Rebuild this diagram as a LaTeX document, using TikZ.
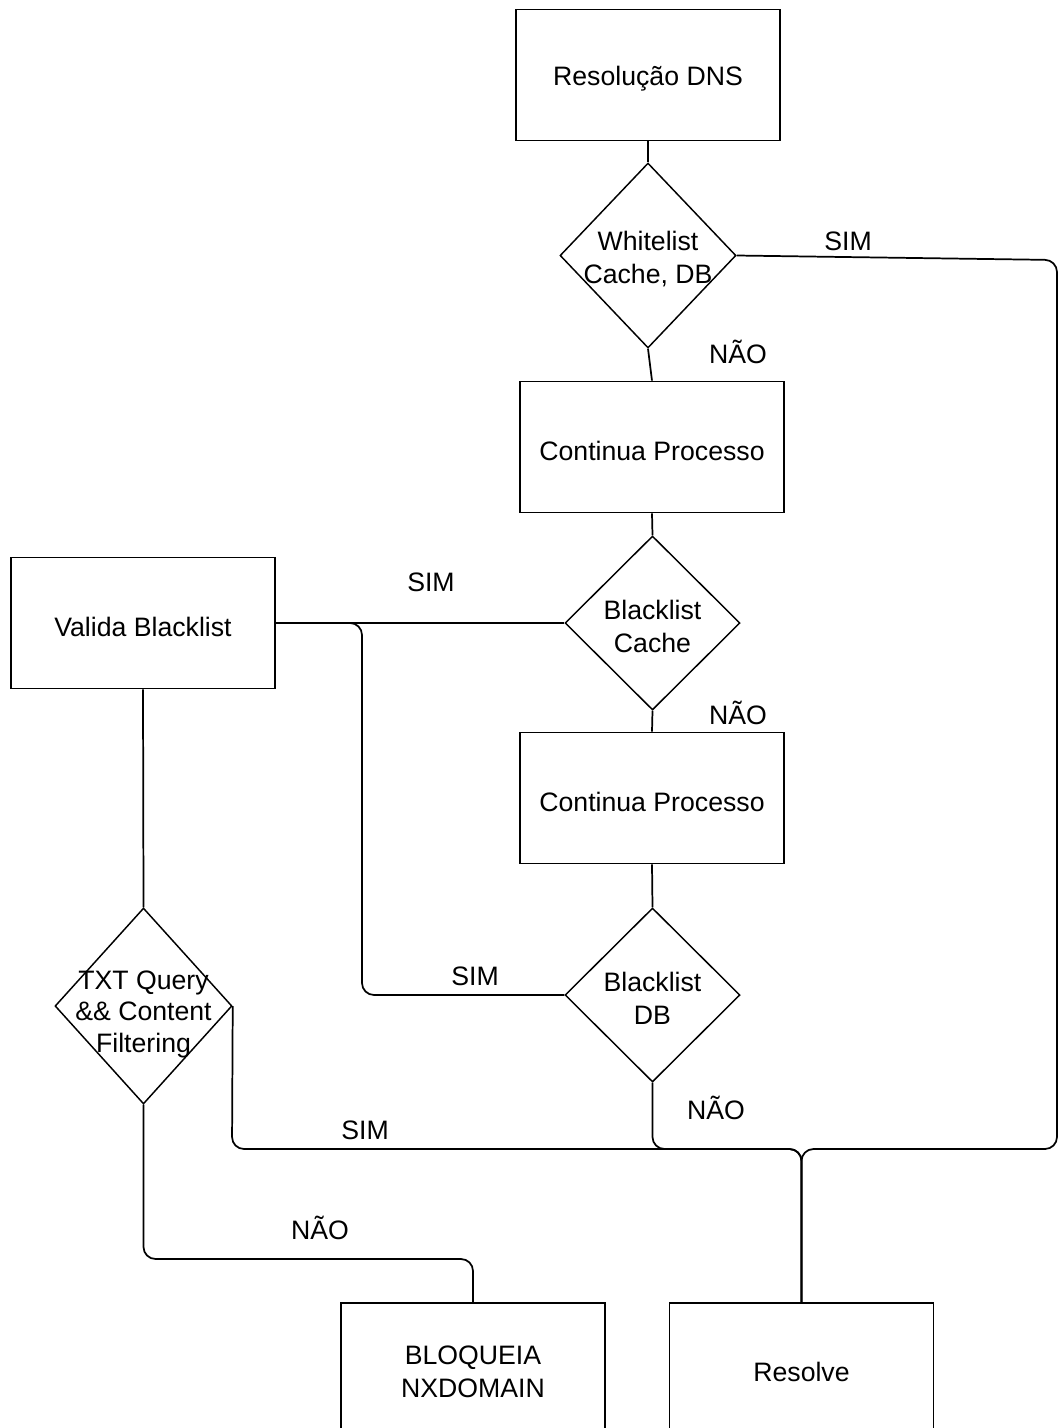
\documentclass[tikz,border=0pt]{standalone}
\usepackage{fontspec}
\setmainfont{Liberation Sans}
\usetikzlibrary{shapes.geometric}
\begin{document}
\begin{tikzpicture}[x=0.75pt,y=-0.75pt,
  font=\fontsize{20}{25}\selectfont,
  inside/.style={align=center, inner sep=0pt, yshift=-2.7pt},
  stepbox/.style={draw, line width=1.3pt, minimum width=198pt, minimum height=98.25pt, inner sep=0pt,
    label={[inside]center:#1}},
  decision/.style={draw, diamond, line width=1.1pt, inner sep=0pt},
  link/.style={line width=1.3pt, rounded corners=9pt},
  tag/.style={inner sep=0pt}]
\useasboundingbox (0,0) rectangle (1059,1428);
\clip (0,0) rectangle (1059,1428);
\fill[white] (0,0) rectangle (1059,1428);

% process boxes
\node[stepbox={Resolução DNS}] (dns) at (648,75) {};
\node[stepbox={Continua Processo}] (c1) at (652,447) {};
\node[stepbox={Continua Processo}] (c2) at (652,798) {};
\node[stepbox={Valida Blacklist}] (vb) at (143,623) {};
\node[stepbox={BLOQUEIA\\NXDOMAIN}] (bq) at (473,1368.5) {};
\node[stepbox={Resolve}] (rs) at (801.5,1368.5) {};

% decisions
\node[decision, minimum width=132pt, minimum height=138.75pt,
  label={[inside]center:{Whitelist\\Cache, DB}}] (wl) at (648,255.5) {};
\node[decision, minimum width=131.25pt, minimum height=130.5pt,
  label={[inside]center:Blacklist\\Cache}] (bc) at (652.5,623) {};
\node[decision, minimum width=131.25pt, minimum height=130.5pt,
  label={[inside]center:Blacklist\\DB}] (db) at (652.5,995) {};
\node[decision, minimum width=132.75pt, minimum height=147pt,
  label={[inside,yshift=-3.5pt,font=\fontsize{20}{23.6}\selectfont]center:TXT Query\\\&\& Content\\Filtering}] (txt) at (143.5,1006) {};

% main chain
\draw[link] (dns.south) -- (wl.north);
\draw[link] (wl.south) -- (c1.north);
\draw[link] (c1.south) -- (bc.north);
\draw[link] (bc.south) -- (c2.north);
\draw[link] (c2.south) -- (db.north);
\draw[link] (vb.south) -- (txt.north);

% branches
\draw[link] (wl.east) -- (1057,260) -- (1057,1149) -- (801.5,1149) -- (rs.north);
\draw[link] (db.south) -- (652.5,1149) -- (801.5,1149) -- (rs.north);
\draw[link] (txt.east) -- (232,1149) -- (801.5,1149) -- (rs.north);
\draw[link] (bc.west) -- (vb.east);
\draw[link] (db.west) -- (362,995) -- (362,623) -- (vb.east);
\draw[link] (txt.south) -- (143.5,1259) -- (473,1259) -- (bq.north);

% branch labels
\node[tag] (l1) at (848,241) {SIM};
\node[tag] (l2) at (738,352) {NÃO};
\node[tag] (l3) at (431,582) {SIM};
\node[tag] (l4) at (738,713) {NÃO};
\node[tag] (l5) at (475,976) {SIM};
\node[tag] (l6) at (716,1108) {NÃO};
\node[tag] (l7) at (365,1130) {SIM};
\node[tag] (l8) at (320,1228) {NÃO};
\end{tikzpicture}
\end{document}
